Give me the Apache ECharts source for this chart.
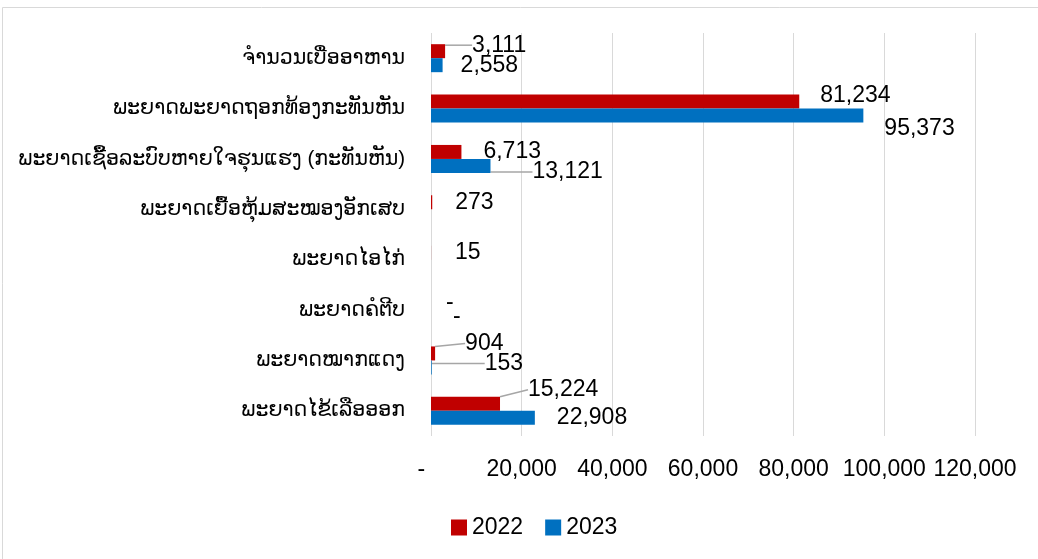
<!DOCTYPE html>
<html>
<head>
<meta charset="utf-8">
<script src="https://cdn.jsdelivr.net/npm/echarts@6/dist/echarts.min.js"></script>
<style>
  html, body { margin: 0; padding: 0; background: #fff; }
  #chart { width: 1038px; height: 559px; }
</style>
</head>
<body>
<div id="chart"></div>
<script>
// categories, top to bottom
const categories = [
    "ຈຳນວນເບື່ອອາຫານ",
    "ພະຍາດພະຍາດຖອກທ້ອງກະທັນຫັນ",
    "ພະຍາດເຊື້ອລະບົບຫາຍໃຈຮຸນແຮງ (ກະທັນຫັນ)",
    "ພະຍາດເຍື້ອຫຸ້ມສະໝອງອັກເສບ",
    "ພະຍາດໄອໄກ່",
    "ພະຍາດຄໍຕີບ",
    "ພະຍາດໝາກແດງ",
    "ພະຍາດໄຂ້ເລືອອອກ",
];
const values2022 = [3111, 81234, 6713, 273, 15, 0, 904, 15224];
const values2023 = [2558, 95373, 13121, null, null, 0, 153, 22908];
const seriesNames = ["2022", "2023"];
const xTicks = { min: 0, max: 120000, interval: 20000 };

// label nudges [dx, dy, leader line] (Excel moved some data labels)
const labelShift = [
    [[6, -6, true], [0, -6], [1, 0], [2, 0], [3, 0], [-6, 0], [9, -10, true], [7, -14, true]],
    [[-3, 0], [0, 13], [21, 6, true], null, null, [1, 0], [32, -4, true], [1, 0]],
];

const fmt = (v) => (v === 0 ? "-" : v.toLocaleString("en-US"));
const font = "'Liberation Sans', Arial, 'DejaVu Sans', sans-serif";

function buildData(vals, s) {
    return vals.map((v, i) => {
        const sh = labelShift[s][i];
        if (v === null) return null;
        if (sh && sh[2]) return { value: v, labelLine: { show: true } };
        return { value: v };
    });
}

function makeSeries(name, vals, s, color) {
    return {
        name: name,
        type: "bar",
        barWidth: 14,
        barGap: "0%",
        itemStyle: { color: color },
        data: buildData(vals, s),
        label: {
            show: true,
            position: "right",
            distance: 21,
            color: "#000",
            fontSize: 23,
            fontFamily: font,
            formatter: (p) => fmt(p.value),
        },
        labelLine: {
            show: false,
            lineStyle: { color: "#a6a6a6", width: 1.5 },
        },
        labelLayout: (p) => {
            const sh = labelShift[s][p.dataIndex];
            if (sh) return { dx: sh[0], dy: sh[1] };
            return {};
        },
    };
}

const chart = echarts.init(document.getElementById("chart"));
chart.setOption({
    animation: false,
    graphic: [{
        type: "rect",
        shape: { x: 2.5, y: 7.5, width: 1100, height: 600 },
        style: { fill: "none", stroke: "#d9d9d9", lineWidth: 1 },
        silent: true,
    }],
    grid: {
        left: 431,
        right: 63,
        top: 33,
        bottom: 123,
        outerBoundsMode: "none",
    },
    legend: {
        data: seriesNames,
        left: 446,
        top: 511,
        icon: "rect",
        itemWidth: 16,
        itemHeight: 16,
        itemGap: 22,
        textStyle: { fontSize: 23, color: "#000", fontFamily: font },
    },
    xAxis: {
        type: "value",
        min: xTicks.min,
        max: xTicks.max,
        interval: xTicks.interval,
        axisLine: { show: false },
        axisTick: { show: false },
        splitLine: { lineStyle: { color: "#d9d9d9", width: 1 } },
        axisLabel: {
            margin: 22,
            fontSize: 23,
            color: "#000",
            fontFamily: font,
            formatter: (v) => (v === 0 ? "-   " : fmt(v)),
        },
    },
    yAxis: {
        type: "category",
        inverse: true,
        data: categories,
        axisLine: { show: false },
        axisTick: { show: false },
        axisLabel: {
            margin: 26,
            fontSize: 20.5,
            color: "#000",
            fontFamily: font,
        },
    },
    series: [
        makeSeries(seriesNames[0], values2022, 0, "#C00000"),
        makeSeries(seriesNames[1], values2023, 1, "#0070C0"),
    ],
});
</script>
</body>
</html>
